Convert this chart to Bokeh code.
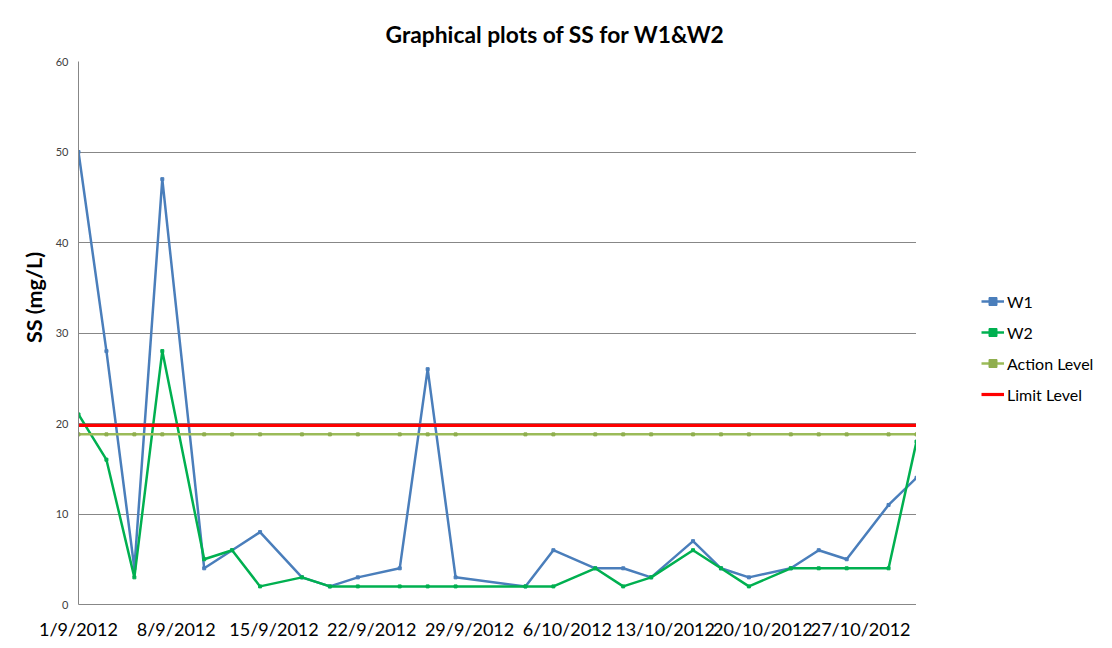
import math
import pandas as pd
from bokeh.plotting import figure
from bokeh.layouts import row
from bokeh.models import (ColumnDataSource, Range1d, FixedTicker, CustomJSTickFormatter,
                          Legend, LegendItem, Label)
from bokeh.embed import file_html
from bokeh.resources import INLINE

# ---------------- data ----------------
dates = ["2012-09-01", "2012-09-03", "2012-09-05", "2012-09-07", "2012-09-10",
         "2012-09-12", "2012-09-14", "2012-09-17", "2012-09-19", "2012-09-21",
         "2012-09-24", "2012-09-26", "2012-09-28", "2012-10-03", "2012-10-05",
         "2012-10-08", "2012-10-10", "2012-10-12", "2012-10-15", "2012-10-17",
         "2012-10-19", "2012-10-22", "2012-10-24", "2012-10-26", "2012-10-29",
         "2012-10-31"]
w1 = [50, 28, 4, 47, 4, 6, 8, 3, 2, 3, 4, 26, 3, 2, 6, 4, 4, 3, 7, 4, 3, 4, 6, 5, 11, 14]
w2 = [21, 16, 3, 28, 5, 6, 2, 3, 2, 2, 2, 2, 2, 2, 2, 4, 2, 3, 6, 4, 2, 4, 4, 4, 4, 18]
action_level = 18.8
limit_level = 19.8

tick_dates = ["2012-09-01", "2012-09-08", "2012-09-15", "2012-09-22", "2012-09-29",
              "2012-10-06", "2012-10-13", "2012-10-20", "2012-10-27"]
tick_labels = ["1/9/2012", "8/9/2012", "15/9/2012", "22/9/2012", "29/9/2012",
               "6/10/2012", "13/10/2012", "20/10/2012", "27/10/2012"]
y_ticks = [0, 10, 20, 30, 40, 50, 60]

series_names = ["W1", "W2", "Action Level", "Limit Level"]

x_start = "2012-09-01"
x_end = "2012-10-31"

FONT = "Lato"
C_W1, C_W2, C_ACT, C_LIM = "#4A7EBB", "#00B050", "#9BBB59", "#FF0000"

# ---------------- build ----------------
xd = pd.to_datetime(dates)
src = ColumnDataSource(dict(
    x=xd, w1=w1, w2=w2,
    action=[action_level] * len(dates),
    limit=[limit_level] * len(dates),
))

p = figure(width=916, height=648, x_axis_type="datetime",
           output_backend="svg", toolbar_location=None,
           x_range=Range1d(pd.Timestamp(x_start), pd.Timestamp(x_end)),
           y_range=Range1d(0, 60),
           min_border_left=78, min_border_right=0,
           min_border_top=61, min_border_bottom=44)
p.background_fill_color = "white"
p.border_fill_color = "white"
p.outline_line_color = None

p.title.text = "Graphical plots of SS for W1&W2"
p.title.align = "left"
p.title.offset = 307
p.title.text_font = FONT
p.title.text_font_style = "bold"
p.title.text_font_size = "22.8px"
p.title.text_color = "black"
p.title.standoff = 27

tick_ms = [int(pd.Timestamp(d).value // 10**6) for d in tick_dates]
p.xaxis.ticker = FixedTicker(ticks=tick_ms)
p.xaxis.formatter = CustomJSTickFormatter(
    args=dict(tvals=tick_ms, tlabels=tick_labels),
    code="const i = tvals.indexOf(tick); return i >= 0 ? tlabels[i] : '';")
p.yaxis.ticker = FixedTicker(ticks=y_ticks)

p.xgrid.visible = False
p.ygrid.grid_line_color = "#878787"
p.ygrid.grid_line_width = 1

for ax in (p.xaxis, p.yaxis):
    ax.axis_line_color = "#878787"
    ax.axis_line_width = 1
    ax.major_tick_line_color = None
    ax.minor_tick_line_color = None
    ax.major_tick_out = 0
    ax.major_tick_in = 0
    ax.minor_tick_out = 0
    ax.minor_tick_in = 0
    ax.major_label_text_font = FONT

p.xaxis.major_label_text_font_size = "18px"
p.xaxis.major_label_text_color = "black"
p.xaxis.major_label_standoff = 13
p.yaxis.major_label_text_font_size = "11px"
p.yaxis.major_label_text_color = "#404040"
p.yaxis.major_label_standoff = 10


def draw_series(fig, visible=True):
    r1 = fig.line("x", "w1", source=src, line_color=C_W1, line_width=2.5, visible=visible)
    s1 = fig.scatter("x", "w1", source=src, marker="square", size=3, color=C_W1, visible=visible)
    r2 = fig.line("x", "w2", source=src, line_color=C_W2, line_width=2.5, visible=visible)
    s2 = fig.scatter("x", "w2", source=src, marker="square", size=3, color=C_W2, visible=visible)
    r3 = fig.line("x", "action", source=src, line_color=C_ACT, line_width=2.5, visible=visible)
    s3 = fig.scatter("x", "action", source=src, marker="square", size=3, color="#8FAE4E",
                     visible=visible)
    r4 = fig.line("x", "limit", source=src, line_color=C_LIM, line_width=3.2, visible=visible)
    return [[r1, s1], [r2, s2], [r3, s3], [r4]]


# series on the chart (Excel draw order: W1, W2, Action, Limit)
draw_series(p, True)

ylab = Label(x=7.5, y=307, x_units="screen", y_units="screen", angle=math.pi / 2,
             text="SS (mg/L)", text_font=FONT, text_font_style="bold",
             text_font_size="21.5px", text_color="black",
             text_align="center", text_baseline="middle")
p.add_layout(ylab, "left")

# legend panel on the right (same series, keyed by the legend only)
q = figure(width=196, height=648, output_backend="svg", toolbar_location=None,
           x_axis_type="datetime",
           x_range=Range1d(pd.Timestamp(x_start), pd.Timestamp(x_end)),
           y_range=Range1d(0, 60),
           x_axis_location=None, y_axis_location=None,
           min_border_left=0, min_border_right=0, min_border_top=0, min_border_bottom=0)
q.xgrid.visible = False
q.ygrid.visible = False
q.outline_line_color = None
q.background_fill_color = "white"
q.border_fill_color = "white"
leg_renderers = draw_series(q, False)

legend = Legend(items=[LegendItem(label=n, renderers=r)
                       for n, r in zip(series_names, leg_renderers)],
                location=(65, 200), orientation="vertical",
                glyph_width=23, glyph_height=20, label_height=20, spacing=11,
                padding=0, margin=0, label_standoff=3, click_policy="none",
                border_line_color=None, background_fill_alpha=0,
                label_text_font=FONT, label_text_font_size="16px",
                label_text_color="black")
q.add_layout(legend)

layout = row(p, q, spacing=0)
open("out.html", "w").write(file_html(layout, INLINE))
